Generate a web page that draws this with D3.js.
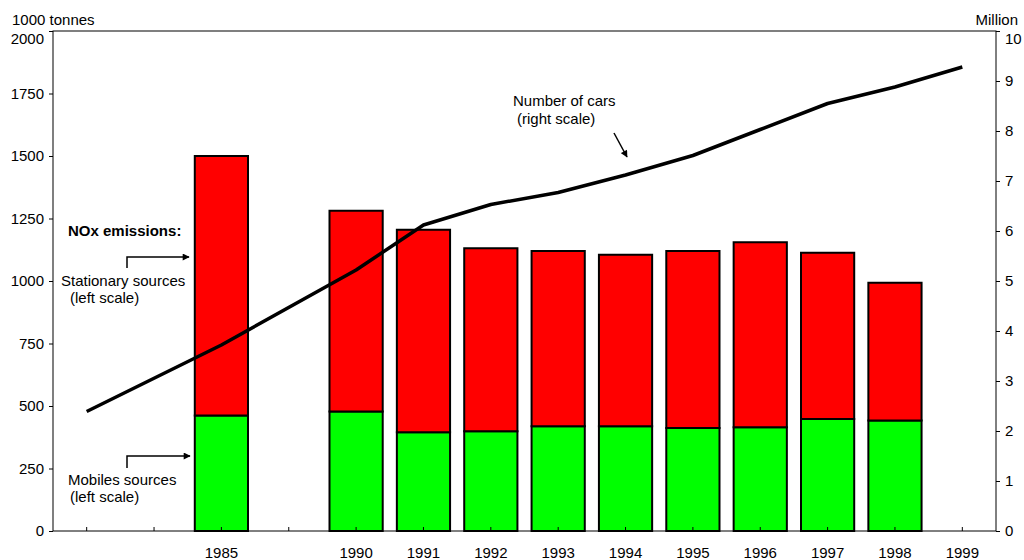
<!DOCTYPE html>
<html>
<head>
<meta charset="utf-8">
<script src="https://cdn.jsdelivr.net/npm/d3@7/dist/d3.min.js"></script>
<style>
  html, body { margin: 0; padding: 0; background: #fff; }
  svg { display: block; font-family: "Liberation Sans", Arial, sans-serif; }
</style>
</head>
<body>
<svg id="chart" width="1024" height="560"></svg>
<script>
// Category slots along the x axis (blank slots carry no label)
const slots = ["s0", "s1", "1985", "s3", "1990", "1991", "1992", "1993", "1994", "1995", "1996", "1997", "1998", "1999"];
const slotLabels = ["", "", "1985", "", "1990", "1991", "1992", "1993", "1994", "1995", "1996", "1997", "1998", "1999"];

// NOx emissions, 1000 tonnes
const barYears = ["1985", "1990", "1991", "1992", "1993", "1994", "1995", "1996", "1997", "1998"];
const mobileSources = [462, 478, 395, 399, 419, 419, 412, 415, 448, 442];
const stationarySources = [1038, 803, 810, 732, 701, 686, 708, 740, 665, 551];

// Number of cars, million
const carSlots = ["s0", "1985", "1990", "1991", "1992", "1993", "1994", "1995", "1996", "1997", "1998", "1999"];
const carsMillion = [2.39, 3.72, 5.22, 6.12, 6.53, 6.77, 7.12, 7.51, 8.03, 8.55, 8.88, 9.28];

const leftTicks = [0, 250, 500, 750, 1000, 1250, 1500, 1750, 2000];
const rightTicks = [0, 1, 2, 3, 4, 5, 6, 7, 8, 9, 10];

const svg = d3.select("#chart");
const plot = { left: 53, right: 996, top: 31, bottom: 531 };

const x = d3.scaleBand().domain(slots).range([plot.left, plot.right]).paddingInner(0.21).paddingOuter(0.105);
const yL = d3.scaleLinear().domain([0, 2000]).range([plot.bottom, plot.top]);
const yR = d3.scaleLinear().domain([0, 10]).range([plot.bottom, plot.top]);
const cx = k => x(k) + x.bandwidth() / 2;

const fontSize = 15;

// Stacked bars: mobile sources at the bottom, stationary on top
const barData = barYears.map((yr, i) => ({ yr, mobile: mobileSources[i], stationary: stationarySources[i] }));
const stack = d3.stack().keys(["mobile", "stationary"])(barData);
const colours = { mobile: "#00ff00", stationary: "#ff0000" };

svg.append("g").selectAll("g").data(stack).join("g")
  .attr("fill", d => colours[d.key])
  .selectAll("rect").data(d => d).join("rect")
  .attr("x", d => x(d.data.yr))
  .attr("width", x.bandwidth())
  .attr("y", d => yL(d[1]))
  .attr("height", d => yL(d[0]) - yL(d[1]))
  .attr("stroke", "#000")
  .attr("stroke-width", 2);

// Frame around the plot
svg.append("rect")
  .attr("x", plot.left).attr("y", plot.top)
  .attr("width", plot.right - plot.left).attr("height", plot.bottom - plot.top)
  .attr("fill", "none").attr("stroke", "#000").attr("stroke-width", 1);

// Axes
const styleAxis = g => {
  g.select(".domain").remove();
  g.selectAll("text").attr("font-size", fontSize).attr("fill", "#000")
    .attr("font-family", "'Liberation Sans', Arial, sans-serif");
  g.selectAll("line").attr("stroke", "#000");
};

const gL = svg.append("g").attr("transform", `translate(${plot.left},0)`)
  .call(d3.axisLeft(yL).tickValues(leftTicks).tickSize(4).tickPadding(5).tickFormat(d3.format("d")))
  .call(styleAxis);
gL.selectAll(".tick").filter(d => d === 2000).select("text").attr("dy", "0.85em");

const gR = svg.append("g").attr("transform", `translate(${plot.right},0)`)
  .call(d3.axisRight(yR).tickValues(rightTicks).tickSize(4).tickPadding(5).tickFormat(d3.format("d")))
  .call(styleAxis);
gR.selectAll(".tick").filter(d => d === 10).select("text").attr("dy", "0.85em");

svg.append("g").attr("transform", `translate(0,${plot.bottom})`)
  .call(d3.axisBottom(x).tickSize(-4).tickPadding(16).tickFormat((d, i) => slotLabels[i]))
  .call(styleAxis);

// Unit labels
svg.append("text").attr("x", 12).attr("y", 25).attr("font-size", fontSize).text("1000 tonnes");
svg.append("text").attr("x", 1018).attr("y", 25).attr("font-size", fontSize).attr("text-anchor", "end").text("Million");

// Number of cars line
const line = d3.line().x((d, i) => cx(carSlots[i])).y(d => yR(d));
svg.append("path").datum(carsMillion)
  .attr("d", line)
  .attr("fill", "none").attr("stroke", "#000").attr("stroke-width", 3.5)
  .attr("stroke-linejoin", "round");

// Arrow marker for annotations
svg.append("defs").append("marker")
  .attr("id", "arrow").attr("viewBox", "0 0 10 10")
  .attr("refX", 9).attr("refY", 5)
  .attr("markerWidth", 9).attr("markerHeight", 7)
  .attr("markerUnits", "userSpaceOnUse")
  .attr("orient", "auto")
  .append("path").attr("d", "M0,0 L10,5 L0,10 Z").attr("fill", "#000");

const note = (xx, yy, txt, opts = {}) => svg.append("text")
  .attr("x", xx).attr("y", yy).attr("font-size", fontSize)
  .attr("font-weight", opts.bold ? "bold" : "normal")
  .attr("text-anchor", opts.anchor || "start").text(txt);

note(68, 236, "NOx emissions:", { bold: true });
svg.append("path").attr("d", "M127,268 V257 H189")
  .attr("fill", "none").attr("stroke", "#000").attr("stroke-width", 1.5).attr("marker-end", "url(#arrow)");
note(61, 286, "Stationary sources");
note(70, 303, "(left scale)");

svg.append("path").attr("d", "M127,468 V456 H190")
  .attr("fill", "none").attr("stroke", "#000").attr("stroke-width", 1.5).attr("marker-end", "url(#arrow)");
note(68, 485, "Mobiles sources");
note(70, 502, "(left scale)");

note(513, 106, "Number of cars");
note(517, 124, "(right scale)");
svg.append("path").attr("d", "M614,133 L627,157")
  .attr("fill", "none").attr("stroke", "#000").attr("stroke-width", 1.5).attr("marker-end", "url(#arrow)");
</script>
</body>
</html>
